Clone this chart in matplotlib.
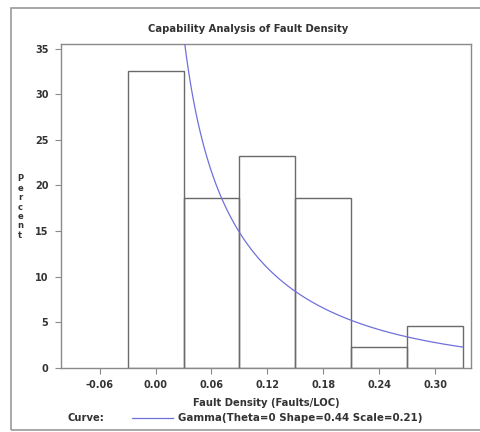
import math
import numpy as np
import matplotlib
matplotlib.use("Agg")
import matplotlib.pyplot as plt
from matplotlib.patches import Rectangle

# Histogram data (percent of observations per bin)
bin_mids = [0.00, 0.06, 0.12, 0.18, 0.24, 0.30]
percents = [32.56, 18.60, 23.26, 18.60, 2.33, 4.65]
bin_width = 0.06

x_ticks = [-0.06, 0.00, 0.06, 0.12, 0.18, 0.24, 0.30]
x_tick_labels = ["-0.06", "0.00", "0.06", "0.12", "0.18", "0.24", "0.30"]
y_ticks = [0, 5, 10, 15, 20, 25, 30, 35]

# Fitted gamma curve parameters (from legend)
theta = 0.0
shape = 0.44
scale = 0.21

GRAY = "#8a8a8a"
TXT = "#333333"
FONT = dict(family="DejaVu Sans", weight="bold", color=TXT)

fig = plt.figure(figsize=(4.81, 4.32), dpi=100)
W, H = 481, 432

# outer frame of the SAS graph page
fig.patches.append(Rectangle((11 / W, 1 - 430 / H), 480 / W, 422 / H,
                             transform=fig.transFigure, fill=False,
                             edgecolor="#9a9a9a", lw=1.2))

ax = fig.add_axes([61 / W, 1 - 368 / H, 410 / W, 324 / H])

ax.bar(bin_mids, percents, width=bin_width, facecolor="none",
       edgecolor="#6a6a6a", linewidth=1.0, zorder=2)

# gamma density scaled to percent per bin
xs = np.linspace(0.001, 0.33, 400)
pdf = ((xs - theta) ** (shape - 1) * np.exp(-(xs - theta) / scale)
       / (math.gamma(shape) * scale ** shape))
ax.plot(xs, pdf * bin_width * 100, color="#7070dc", lw=0.9, zorder=3)

ax.set_xlim(-0.1015, 0.3385)
ax.set_ylim(0, 35.5)
ax.set_xticks(x_ticks)
ax.set_xticklabels(x_tick_labels)
ax.set_yticks(y_ticks)
for sp in ax.spines.values():
    sp.set_color(GRAY)
    sp.set_linewidth(1.0)
ax.tick_params(direction="out", length=4, width=0.8, color=GRAY,
               labelsize=7, labelcolor=TXT, pad=5)
for lab in ax.get_xticklabels() + ax.get_yticklabels():
    lab.set_fontweight("bold")

fig.text(248 / W, 1 - 29 / H, "Capability Analysis of Fault Density",
         ha="center", va="center", fontsize=7.2, **FONT)
fig.text(266 / W, 1 - 403 / H, "Fault Density (Faults/LOC)",
         ha="center", va="center", fontsize=7.2, **FONT)
fig.text(20 / W, 1 - 207 / H, "\n".join("Percent"), ha="center",
         va="center", fontsize=6, linespacing=1.05, **FONT)

# legend row
fig.text(67 / W, 1 - 418 / H, "Curve:", ha="left", va="center",
         fontsize=7.2, **FONT)
fig.lines.append(plt.Line2D([132 / W, 173 / W], [1 - 418 / H, 1 - 418 / H],
                            transform=fig.transFigure, color="#7070dc", lw=0.9))
fig.text(178 / W, 1 - 418 / H, "Gamma(Theta=0 Shape=0.44 Scale=0.21)",
         ha="left", va="center", fontsize=7.4, **FONT)

fig.savefig("out.png", dpi=100)
